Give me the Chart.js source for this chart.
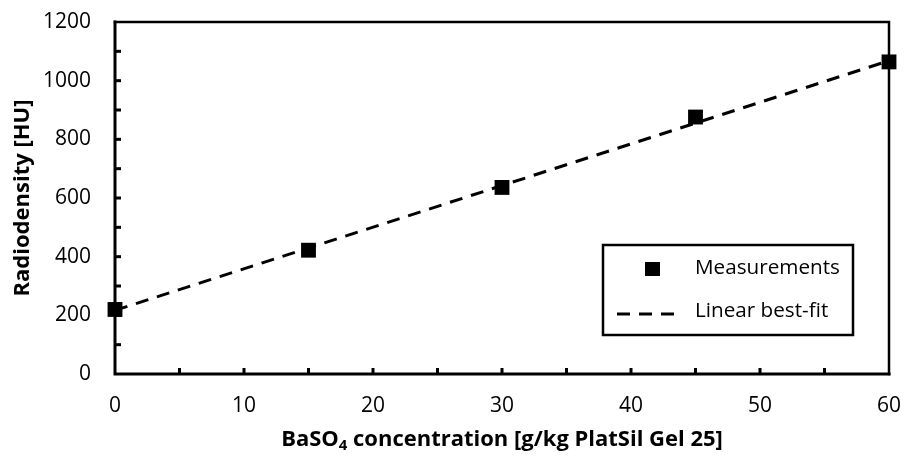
<!DOCTYPE html>
<html>
<head>
<meta charset="utf-8">
<script src="https://cdn.jsdelivr.net/npm/chart.js@4/dist/chart.umd.min.js"></script>
<style>
html,body{margin:0;padding:0;background:#fff;}
#wrap{width:904px;height:457px;position:relative;}
</style>
</head>
<body>
<div id="wrap"><canvas id="c" width="904" height="457"></canvas></div>
<script>
// Data
const concentration = [0, 15, 30, 45, 60];
const radiodensity = [220, 422, 636, 876, 1064];
const fitX = [0, 60];
const fitY = [217, 1068];
const xTicks = [0, 10, 20, 30, 40, 50, 60];
const yTicks = [0, 200, 400, 600, 800, 1000, 1200];
const xMinorTicks = [5, 15, 25, 35, 45, 55];
const yMinorTicks = [100, 300, 500, 700, 900, 1100];
const xTitleMain = "BaSO";
const xTitleSub = "4";
const xTitleRest = " concentration [g/kg PlatSil Gel 25]";
const yTitle = "Radiodensity [HU]";
const legendLabels = ["Measurements", "Linear best-fit"];

const FONT = "'Open Sans', Lato, sans-serif";
const DASH = [13, 9];

function fitSize(ctx, weight, text, target, base) {
  ctx.font = weight + " " + base + "px " + FONT;
  const w = ctx.measureText(text).width;
  return base * target / w;
}

const framePlugin = {
  id: 'frame',
  beforeDatasetsDraw(chart) {
    const {ctx, chartArea: a, scales: {x, y}} = chart;
    ctx.save();
    ctx.strokeStyle = '#000';
    ctx.lineCap = 'square';
    ctx.lineWidth = 2.5;
    ctx.beginPath();
    ctx.moveTo(a.left, a.top); ctx.lineTo(a.right, a.top); ctx.lineTo(a.right, a.bottom);
    ctx.stroke();
    ctx.lineWidth = 3;
    ctx.beginPath();
    ctx.moveTo(a.left, a.top); ctx.lineTo(a.left, a.bottom); ctx.lineTo(a.right, a.bottom);
    ctx.stroke();
    ctx.lineCap = 'butt';
    const tl = 6;
    [...xTicks, ...xMinorTicks].forEach(v => {
      if (v === 0 || v === 60) return;
      const px = x.getPixelForValue(v);
      ctx.beginPath(); ctx.moveTo(px, a.bottom); ctx.lineTo(px, a.bottom - tl); ctx.stroke();
    });
    [...yTicks, ...yMinorTicks].forEach(v => {
      if (v === 0 || v === 1200) return;
      const py = y.getPixelForValue(v);
      ctx.beginPath(); ctx.moveTo(a.left, py); ctx.lineTo(a.left + tl, py); ctx.stroke();
    });
    ctx.restore();
  },
  afterDraw(chart) {
    const {ctx, chartArea: a} = chart;
    ctx.save();
    ctx.fillStyle = '#000';
    const fullX = xTitleMain + xTitleSub + xTitleRest;
    const bs = fitSize(ctx, 'bold', fullX, 446, 20);
    const bf = "bold " + bs + "px " + FONT;
    const sf = "bold " + (bs * 0.68) + "px " + FONT;
    ctx.font = bf; const w1 = ctx.measureText(xTitleMain).width;
    const w3 = ctx.measureText(xTitleRest).width;
    ctx.font = sf; const w2 = ctx.measureText(xTitleSub).width;
    const total = w1 + w2 + w3;
    let sx = (a.left + a.right) / 2 - total / 2;
    const ty = 440;
    ctx.textBaseline = 'middle';
    ctx.textAlign = 'left';
    ctx.font = bf; ctx.fillText(xTitleMain, sx, ty); sx += w1;
    ctx.font = sf; ctx.fillText(xTitleSub, sx, ty + 6); sx += w2;
    ctx.font = bf; ctx.fillText(xTitleRest, sx, ty);
    const ys = fitSize(ctx, 'bold', yTitle, 197, 20);
    ctx.translate(23, 198);
    ctx.rotate(-Math.PI / 2);
    ctx.textAlign = 'center';
    ctx.font = "bold " + ys + "px " + FONT;
    ctx.fillText(yTitle, 0, 0);
    ctx.restore();
    // legend
    ctx.save();
    const bx = 603, by = 245, bw = 250, bh = 90;
    ctx.fillStyle = '#fff';
    ctx.fillRect(bx, by, bw, bh);
    ctx.strokeStyle = '#000';
    ctx.lineWidth = 2.5;
    ctx.strokeRect(bx, by, bw, bh);
    ctx.fillStyle = '#000';
    ctx.fillRect(645, 262, 15, 14);
    ctx.lineWidth = 3;
    ctx.setLineDash(DASH);
    ctx.beginPath(); ctx.moveTo(617, 314); ctx.lineTo(678, 314); ctx.stroke();
    ctx.setLineDash([]);
    const ls = fitSize(ctx, 'normal', legendLabels[0], 145, 20);
    ctx.font = ls + "px " + FONT;
    ctx.textBaseline = 'middle';
    ctx.textAlign = 'left';
    ctx.fillText(legendLabels[0], 695, 268);
    ctx.fillText(legendLabels[1], 695, 311);
    ctx.restore();
  }
};

new Chart(document.getElementById('c'), {
  type: 'scatter',
  data: {
    datasets: [
      {
        label: legendLabels[1],
        data: fitX.map((v, i) => ({x: v, y: fitY[i]})),
        showLine: true,
        borderColor: '#000',
        borderWidth: 3,
        borderDash: DASH,
        pointRadius: 0,
        fill: false,
        clip: false,
        order: 2
      },
      {
        label: legendLabels[0],
        data: concentration.map((v, i) => ({x: v, y: radiodensity[i]})),
        pointStyle: 'rect',
        pointRadius: 10.5,
        backgroundColor: '#000',
        borderColor: '#000',
        borderWidth: 0,
        showLine: false,
        clip: false,
        order: 1
      }
    ]
  },
  options: {
    responsive: false,
    animation: false,
    devicePixelRatio: 1,
    layout: {padding: {left: 0, right: 15, top: 22, bottom: 0}},
    plugins: {legend: {display: false}, tooltip: {enabled: false}},
    scales: {
      x: {
        type: 'linear', min: 0, max: 60,
        afterBuildTicks: s => { s.ticks = xTicks.map(v => ({value: v})); },
        afterFit: s => { s.height = 83; s.paddingLeft = 0; s.paddingRight = 0; },
        grid: {display: false, drawTicks: false},
        border: {display: false},
        ticks: {color: '#000', font: {family: FONT, size: 21}, padding: 19, maxRotation: 0,
                callback: v => String(v)}
      },
      y: {
        type: 'linear', min: 0, max: 1200,
        afterBuildTicks: s => { s.ticks = yTicks.map(v => ({value: v})); },
        afterFit: s => { s.width = 115; s.paddingTop = 0; s.paddingBottom = 0; },
        grid: {display: false, drawTicks: false},
        border: {display: false},
        ticks: {color: '#000', font: {family: FONT, size: 21}, padding: 24,
                callback: v => String(v)}
      }
    }
  },
  plugins: [framePlugin]
});
</script>
</body>
</html>
